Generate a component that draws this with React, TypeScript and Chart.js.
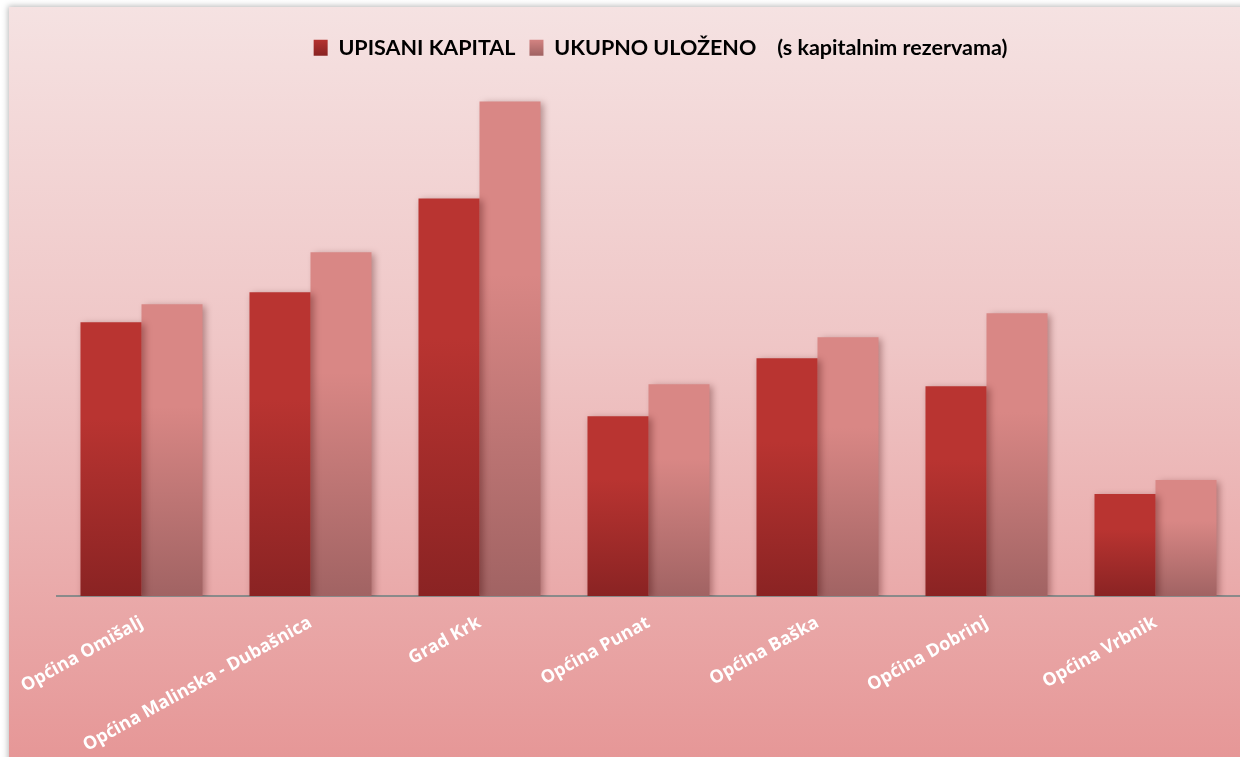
import React, { useEffect, useRef } from "react";
import { Chart, registerables } from "chart.js";

Chart.register(...registerables);

const categories = [
  "Općina Omišalj",
  "Općina Malinska - Dubašnica",
  "Grad Krk",
  "Općina Punat",
  "Općina Baška",
  "Općina Dobrinj",
  "Općina Vrbnik",
];
const seriesNames = ["UPISANI KAPITAL", "UKUPNO ULOŽENO    (s kapitalnim rezervama)"];
const upisaniKapital = [274, 304, 398, 180, 238, 210, 102];
const ukupnoUlozeno = [292, 344, 495, 212, 259, 283, 116];
const yMax = 528;

const redTop = "#b93431";
const redBottom = "#8a2323";
const pinkTop = "#d98785";
const pinkBottom = "#a16363";

const barGradient = (top: string, bottom: string) => (ctx: any) => {
  const chart = ctx.chart;
  const y = chart.scales && chart.scales.y;
  if (!y || ctx.raw == null || !chart.chartArea) return top;
  const yTop = y.getPixelForValue(ctx.raw);
  const yBot = y.getPixelForValue(0);
  if (!isFinite(yTop) || !isFinite(yBot) || yTop === yBot) return top;
  const g = chart.ctx.createLinearGradient(0, yTop, 0, yBot);
  g.addColorStop(0, top);
  g.addColorStop(0.35, top);
  g.addColorStop(1, bottom);
  return g;
};

const panelPlugin = {
  id: "panel",
  beforeDraw(chart: any) {
    const { ctx, width, height } = chart;
    ctx.save();
    ctx.fillStyle = "#ffffff";
    ctx.fillRect(0, 0, width, height);
    ctx.shadowColor = "rgba(0,0,0,0.28)";
    ctx.shadowBlur = 6;
    ctx.shadowOffsetX = -1;
    ctx.shadowOffsetY = -1;
    const g = ctx.createLinearGradient(0, 7, 0, height);
    g.addColorStop(0, "#f5e2e2");
    g.addColorStop(0.45, "#efc6c6");
    g.addColorStop(1, "#e69797");
    ctx.fillStyle = g;
    ctx.fillRect(9, 7, width + 20, height + 20);
    ctx.restore();
  },
};

const legendShiftPlugin = {
  id: "legendShift",
  afterLayout(chart: any) {
    const lg = chart.legend;
    if (lg) {
      lg.left += 12;
      lg.right += 12;
    }
  },
};

const shadowPlugin = {
  id: "barShadow",
  beforeDatasetsDraw(chart: any) {
    const ctx = chart.ctx;
    ctx.save();
    ctx.shadowColor = "rgba(60,0,0,0.35)";
    ctx.shadowBlur = 7;
    ctx.shadowOffsetX = 3;
    ctx.shadowOffsetY = 2;
  },
  afterDatasetsDraw(chart: any) {
    chart.ctx.restore();
  },
};

export default function App() {
  const canvasRef = useRef<HTMLCanvasElement | null>(null);

  useEffect(() => {
    document.body.style.margin = "0";
    const canvas = canvasRef.current;
    if (!canvas) return;
    const chart = new Chart(canvas, {
      type: "bar",
      data: {
        labels: categories,
        datasets: [
          {
            label: seriesNames[0],
            data: upisaniKapital,
            backgroundColor: barGradient(redTop, redBottom),
            borderWidth: 0,
          },
          {
            label: seriesNames[1],
            data: ukupnoUlozeno,
            backgroundColor: barGradient(pinkTop, pinkBottom),
            borderWidth: 0,
          },
        ],
      },
      options: {
        animation: false,
        responsive: true,
        maintainAspectRatio: false,
        layout: { padding: { left: 57, right: 0, top: 23, bottom: 0 } },
        datasets: {
          bar: { barPercentage: 1, categoryPercentage: 0.722 },
        },
        plugins: {
          tooltip: { enabled: false },
          legend: {
            display: true,
            position: "top",
            labels: {
              boxWidth: 14,
              boxHeight: 16,
              padding: 14,
              color: "#000000",
              font: { family: "Lato", size: 21.5, weight: "bold" },
              generateLabels: (ch: any) =>
                seriesNames.map((name, i) => {
                  const g = ch.ctx.createLinearGradient(0, 38, 0, 55);
                  g.addColorStop(0, i === 0 ? redTop : pinkTop);
                  g.addColorStop(1, i === 0 ? redBottom : pinkBottom);
                  return {
                    text: name,
                    fillStyle: g,
                    strokeStyle: "rgba(0,0,0,0)",
                    lineWidth: 0,
                    hidden: false,
                    datasetIndex: i,
                    fontColor: "#000000",
                  };
                }),
            },
          },
        },
        scales: {
          x: {
            grid: { display: false, drawTicks: false },
            border: { display: true, color: "#8a8a8a", width: 2 },
            ticks: {
              color: "#ffffff",
              font: { family: "Open Sans", size: 18, weight: "bold" },
              minRotation: 29,
              maxRotation: 29,
              autoSkip: false,
              padding: 16,
            },
            afterFit: (scale: any) => {
              scale.height = 161;
              scale.paddingLeft = 0;
              scale.paddingRight = 0;
            },
          },
          y: {
            display: false,
            min: 0,
            max: yMax,
          },
        },
      },
      plugins: [panelPlugin, legendShiftPlugin, shadowPlugin],
    });
    return () => chart.destroy();
  }, []);

  return (
    <div style={{ width: 1240, height: 757, position: "relative" }}>
      <canvas ref={canvasRef} />
    </div>
  );
}
